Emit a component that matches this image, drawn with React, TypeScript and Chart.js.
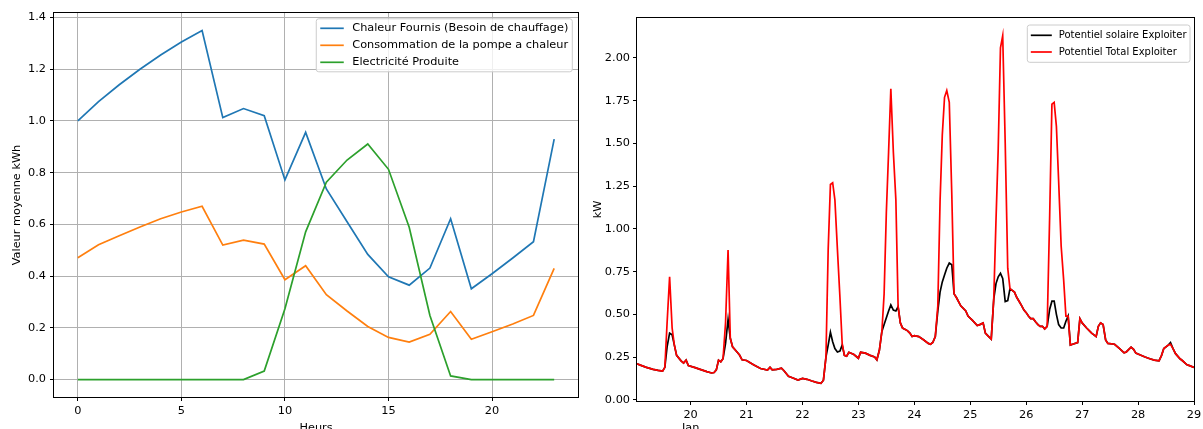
import React, { useEffect, useRef } from 'react';
import { Chart, registerables } from 'chart.js';

Chart.register(...registerables);

const FONT_FAMILY = 'DejaVu Sans';
const FONT_SIZE = 11.3;

// ---------- Left chart data ----------
const hours = [0, 1, 2, 3, 4, 5, 6, 7, 8, 9, 10, 11, 12, 13, 14, 15, 16, 17, 18, 19, 20, 21, 22, 23];
const chaleurFournis = [1.0, 1.075, 1.14, 1.2, 1.255, 1.305, 1.35, 1.013, 1.048, 1.02, 0.772, 0.956, 0.737, 0.61, 0.484, 0.397, 0.365, 0.431, 0.622, 0.351, 0.409, 0.47, 0.533, 0.93];
const consommationPAC = [0.471, 0.521, 0.556, 0.59, 0.622, 0.648, 0.67, 0.52, 0.539, 0.524, 0.386, 0.44, 0.328, 0.265, 0.205, 0.163, 0.145, 0.175, 0.263, 0.156, 0.185, 0.215, 0.248, 0.43];
const electriciteProduite = [0, 0, 0, 0, 0, 0, 0, 0, 0, 0.033, 0.274, 0.571, 0.763, 0.849, 0.911, 0.813, 0.589, 0.248, 0.014, 0, 0, 0, 0, 0];
const leftLabels = ['Chaleur Fournis (Besoin de chauffage)', 'Consommation de la pompe a chaleur', 'Electricité Produite'];
const leftColors = ['#1f77b4', '#ff7f0e', '#2ca02c'];
const leftXTicks = [0, 5, 10, 15, 20];
const leftYTicks = [0, 0.2, 0.4, 0.6, 0.8, 1.0, 1.2, 1.4];

// ---------- Right chart data (day of January) ----------
const days = [
  19.042, 19.125, 19.21, 19.33, 19.42, 19.5, 19.54, 19.58, 19.625, 19.67, 19.71, 19.75, 19.83, 19.875, 19.92, 19.96,
  20.08, 20.17, 20.29, 20.375, 20.42, 20.46, 20.5, 20.54, 20.58, 20.625, 20.67, 20.71, 20.75, 20.83, 20.875, 20.92,
  21.0, 21.125, 21.25, 21.375, 21.42, 21.46, 21.54, 21.625, 21.67, 21.75, 21.83, 21.92,
  22.0, 22.08, 22.17, 22.25, 22.33, 22.375, 22.42, 22.46, 22.5, 22.54, 22.58, 22.625, 22.67, 22.71, 22.75, 22.79, 22.83, 22.92,
  23.0, 23.04, 23.125, 23.21, 23.29, 23.33, 23.375, 23.42, 23.46, 23.5, 23.54, 23.58, 23.625, 23.67, 23.71, 23.75, 23.79, 23.875, 23.92, 23.96,
  24.0, 24.08, 24.17, 24.25, 24.29, 24.33, 24.375, 24.42, 24.46, 24.5, 24.54, 24.58, 24.625, 24.67, 24.71, 24.75, 24.83, 24.92, 24.96,
  25.04, 25.125, 25.17, 25.23, 25.27, 25.33, 25.375, 25.42, 25.46, 25.5, 25.54, 25.58, 25.625, 25.67, 25.71, 25.75, 25.79, 25.83, 25.875, 25.92, 25.96,
  26.0, 26.04, 26.08, 26.125, 26.17, 26.21, 26.25, 26.29, 26.33, 26.375, 26.42, 26.46, 26.5, 26.54, 26.58, 26.625, 26.67, 26.71, 26.75, 26.79, 26.83, 26.92, 26.96,
  27.0, 27.08, 27.17, 27.25, 27.29, 27.33, 27.375, 27.42, 27.46, 27.58, 27.67, 27.75, 27.79, 27.875, 27.92, 27.96,
  28.04, 28.125, 28.21, 28.29, 28.375, 28.42, 28.46, 28.54, 28.58, 28.625, 28.67, 28.75, 28.79, 28.875, 28.92, 29.0,
];
const potentielTotal = [
  0.21, 0.2, 0.19, 0.178, 0.172, 0.168, 0.19, 0.45, 0.72, 0.42, 0.32, 0.26, 0.228, 0.215, 0.232, 0.2,
  0.188, 0.178, 0.165, 0.157, 0.16, 0.175, 0.232, 0.222, 0.24, 0.45, 0.876, 0.36, 0.31, 0.28, 0.262, 0.234,
  0.23, 0.205, 0.183, 0.174, 0.19, 0.175, 0.178, 0.185, 0.17, 0.138, 0.128, 0.115,
  0.125, 0.12, 0.11, 0.102, 0.096, 0.115, 0.25, 0.88, 1.26, 1.27, 1.17, 0.88, 0.6, 0.33, 0.26, 0.255, 0.278, 0.265,
  0.243, 0.278, 0.273, 0.26, 0.25, 0.234, 0.29, 0.4, 0.62, 1.1, 1.45, 1.82, 1.45, 1.17, 0.545, 0.45, 0.42, 0.405, 0.39, 0.37,
  0.375, 0.37, 0.35, 0.33, 0.325, 0.335, 0.37, 0.55, 1.16, 1.55, 1.77, 1.81, 1.74, 1.2, 0.62, 0.6, 0.55, 0.52, 0.49,
  0.465, 0.435, 0.44, 0.45, 0.39, 0.37, 0.355, 0.59, 1.05, 1.47, 2.06, 2.13, 1.5, 0.77, 0.65, 0.64, 0.63, 0.6, 0.575, 0.55, 0.525,
  0.51, 0.49, 0.475, 0.475, 0.455, 0.44, 0.43, 0.43, 0.415, 0.43, 1.08, 1.73, 1.74, 1.6, 1.28, 0.9, 0.7, 0.49, 0.49, 0.32, 0.325, 0.335, 0.475,
  0.45, 0.42, 0.39, 0.37, 0.43, 0.45, 0.44, 0.35, 0.33, 0.325, 0.3, 0.275, 0.28, 0.308, 0.295, 0.273,
  0.262, 0.25, 0.24, 0.232, 0.228, 0.26, 0.3, 0.32, 0.325, 0.3, 0.27, 0.24, 0.23, 0.205, 0.2, 0.19,
];
const potentielSolaire = [
  0.21, 0.2, 0.19, 0.178, 0.172, 0.168, 0.19, 0.31, 0.39, 0.38, 0.32, 0.26, 0.228, 0.215, 0.232, 0.2,
  0.188, 0.178, 0.165, 0.157, 0.16, 0.175, 0.232, 0.222, 0.24, 0.33, 0.47, 0.36, 0.31, 0.28, 0.262, 0.234,
  0.23, 0.205, 0.183, 0.174, 0.19, 0.175, 0.178, 0.185, 0.17, 0.138, 0.128, 0.115,
  0.125, 0.12, 0.11, 0.102, 0.096, 0.115, 0.25, 0.32, 0.395, 0.34, 0.3, 0.28, 0.285, 0.32, 0.26, 0.255, 0.278, 0.265,
  0.243, 0.278, 0.273, 0.26, 0.25, 0.234, 0.29, 0.4, 0.44, 0.48, 0.52, 0.555, 0.525, 0.52, 0.545, 0.45, 0.42, 0.405, 0.39, 0.37,
  0.375, 0.37, 0.35, 0.33, 0.325, 0.335, 0.37, 0.52, 0.63, 0.69, 0.73, 0.77, 0.8, 0.79, 0.62, 0.6, 0.55, 0.52, 0.49,
  0.465, 0.435, 0.44, 0.45, 0.39, 0.37, 0.355, 0.59, 0.68, 0.72, 0.74, 0.71, 0.575, 0.58, 0.65, 0.64, 0.63, 0.6, 0.575, 0.55, 0.525,
  0.51, 0.49, 0.475, 0.475, 0.455, 0.44, 0.43, 0.43, 0.415, 0.43, 0.53, 0.577, 0.577, 0.5, 0.44, 0.42, 0.42, 0.46, 0.49, 0.32, 0.325, 0.335, 0.475,
  0.45, 0.42, 0.39, 0.37, 0.43, 0.45, 0.44, 0.35, 0.33, 0.325, 0.3, 0.275, 0.28, 0.308, 0.295, 0.273,
  0.262, 0.25, 0.24, 0.232, 0.228, 0.26, 0.3, 0.32, 0.335, 0.3, 0.27, 0.24, 0.23, 0.205, 0.2, 0.19,
];
const rightLabels = ['Potentiel solaire Exploiter', 'Potentiel Total Exploiter'];
const rightColors = ['#000000', '#ff0000'];
const rightXTicks = [20, 21, 22, 23, 24, 25, 26, 27, 28, 29];
const rightYTicks = [0, 0.25, 0.5, 0.75, 1.0, 1.25, 1.5, 1.75, 2.0];
const monthLabel = 'Jan';

const font = { family: FONT_FAMILY, size: FONT_SIZE };

function framePlugin() {
  return {
    id: 'frame',
    afterDatasetsDraw(chart: any) {
      const { ctx, chartArea: a } = chart;
      ctx.save();
      ctx.strokeStyle = '#000';
      ctx.lineWidth = 1;
      const l = Math.round(a.left) - 0.5;
      const t = Math.round(a.top) - 0.5;
      const r = Math.round(a.right) + 0.5;
      const b = Math.round(a.bottom) + 0.5;
      ctx.strokeRect(l, t, r - l, b - t);
      ctx.restore();
    },
  };
}

type LegendStyle = { fs: number; padX: number; padY: number; handle: number; htp: number; step: number; offRight: number; offTop: number };

function legendPlugin(labels: string[], colors: string[], st: LegendStyle) {
  return {
    id: 'mplLegend',
    afterDraw(chart: any) {
      const { ctx, chartArea: a } = chart;
      ctx.save();
      ctx.font = `${st.fs}px "${FONT_FAMILY}"`;
      const tw = Math.max(...labels.map((l) => ctx.measureText(l).width));
      const w = 2 * st.padX + st.handle + st.htp + tw;
      const h = 2 * st.padY + (labels.length - 1) * st.step;
      const x = a.right - st.offRight - w;
      const y = a.top + st.offTop;
      ctx.beginPath();
      if ((ctx as any).roundRect) (ctx as any).roundRect(x, y, w, h, 2.5);
      else ctx.rect(x, y, w, h);
      ctx.fillStyle = 'rgba(255,255,255,0.8)';
      ctx.fill();
      ctx.strokeStyle = '#cccccc';
      ctx.lineWidth = 1;
      ctx.stroke();
      labels.forEach((lab, i) => {
        const cy = y + st.padY + i * st.step;
        ctx.beginPath();
        ctx.strokeStyle = colors[i];
        ctx.lineWidth = 1.7;
        ctx.moveTo(x + st.padX, cy);
        ctx.lineTo(x + st.padX + st.handle, cy);
        ctx.stroke();
        ctx.fillStyle = '#000';
        ctx.textBaseline = 'middle';
        ctx.textAlign = 'left';
        ctx.fillText(lab, x + st.padX + st.handle + st.htp, cy);
      });
      ctx.restore();
    },
  };
}

function leftConfig(): any {
  const series = [chaleurFournis, consommationPAC, electriciteProduite];
  return {
    type: 'line',
    data: {
      datasets: series.map((s, k) => ({
        label: leftLabels[k],
        data: hours.map((h, i) => ({ x: h, y: s[i] })),
        borderColor: leftColors[k],
        backgroundColor: leftColors[k],
        borderWidth: 1.7,
        pointRadius: 0,
        tension: 0,
        fill: false,
        order: series.length - k,
      })),
    },
    options: {
      animation: false,
      responsive: false,
      devicePixelRatio: 1,
      layout: { padding: { top: 13, right: 12, bottom: 0, left: 0 }, autoPadding: false },
      plugins: { legend: { display: false }, tooltip: { enabled: false } },
      scales: {
        x: {
          type: 'linear',
          min: -1.15,
          max: 24.15,
          afterBuildTicks: (s: any) => { s.ticks = leftXTicks.map((v) => ({ value: v })); },
          afterFit: (s: any) => { s.height = 53; s.paddingLeft = 0; s.paddingRight = 0; },
          grid: { color: '#b0b0b0', lineWidth: 1, tickColor: '#000', tickLength: 4 },
          border: { display: false },
          ticks: { font, color: '#000', padding: 3, maxRotation: 0, autoSkip: false, callback: (v: any) => String(v) },
          title: { display: true, text: 'Heurs', font, color: '#000', padding: { top: 0, bottom: 15 } },
        },
        y: {
          type: 'linear',
          min: -0.0675,
          max: 1.4175,
          afterBuildTicks: (s: any) => { s.ticks = leftYTicks.map((v) => ({ value: v })); },
          afterFit: (s: any) => { s.width = 54; s.paddingTop = 0; s.paddingBottom = 0; },
          grid: { color: '#b0b0b0', lineWidth: 1, tickColor: '#000', tickLength: 4 },
          border: { display: false },
          ticks: { font, color: '#000', padding: 4, autoSkip: false, callback: (v: any) => Number(v).toFixed(1) },
          title: { display: true, text: 'Valeur moyenne kWh', font, color: '#000', padding: { top: 10.5, bottom: 0 } },
        },
      },
    },
    plugins: [
      framePlugin(),
      legendPlugin(leftLabels, leftColors, { fs: FONT_SIZE, padX: 4, padY: 9.5, handle: 23.5, htp: 8.5, step: 17, offRight: 5.7, offTop: 5.8 }),
    ],
  };
}

function rightConfig(): any {
  const series = [potentielSolaire, potentielTotal];
  return {
    type: 'line',
    data: {
      datasets: series.map((s, k) => ({
        label: rightLabels[k],
        data: days.map((d, i) => ({ x: d, y: s[i] })),
        borderColor: rightColors[k],
        backgroundColor: rightColors[k],
        borderWidth: 1.7,
        pointRadius: 0,
        tension: 0,
        fill: false,
        order: series.length - k,
      })),
    },
    options: {
      animation: false,
      responsive: false,
      devicePixelRatio: 1,
      layout: { padding: { top: 18, right: 9, bottom: 0, left: 0 }, autoPadding: false },
      plugins: { legend: { display: false }, tooltip: { enabled: false } },
      scales: {
        x: {
          type: 'linear',
          min: days[0],
          max: 29,
          afterBuildTicks: (s: any) => { s.ticks = rightXTicks.map((v) => ({ value: v })); },
          afterFit: (s: any) => { s.height = 49; s.paddingLeft = 0; s.paddingRight = 0; },
          grid: { drawOnChartArea: false, drawTicks: true, tickColor: '#000', tickLength: 4 },
          border: { display: false },
          ticks: {
            font, color: '#000', padding: 3, maxRotation: 0, autoSkip: false,
            callback: (v: any) => (Number(v) === 20 ? ['20', monthLabel] : String(v)),
          },
        },
        y: {
          type: 'linear',
          min: -0.007,
          max: 2.234,
          afterBuildTicks: (s: any) => { s.ticks = rightYTicks.map((v) => ({ value: v })); },
          afterFit: (s: any) => { s.width = 47; s.paddingTop = 0; s.paddingBottom = 0; },
          grid: { drawOnChartArea: false, drawTicks: true, tickColor: '#000', tickLength: 4 },
          border: { display: false },
          ticks: { font, color: '#000', padding: 3, autoSkip: false, callback: (v: any) => Number(v).toFixed(2) },
          title: { display: true, text: 'kW', font, color: '#000', padding: { top: 1.5, bottom: 0 } },
        },
      },
    },
    plugins: [
      framePlugin(),
      legendPlugin(rightLabels, rightColors, { fs: 10, padX: 3.5, padY: 10.3, handle: 21, htp: 7, step: 16.7, offRight: 4, offTop: 7 }),
    ],
  };
}

export default function App() {
  const leftRef = useRef<HTMLCanvasElement>(null);
  const rightRef = useRef<HTMLCanvasElement>(null);
  useEffect(() => {
    const c1 = new Chart(leftRef.current as HTMLCanvasElement, leftConfig());
    const c2 = new Chart(rightRef.current as HTMLCanvasElement, rightConfig());
    return () => {
      c1.destroy();
      c2.destroy();
    };
  }, []);
  return (
    <div style={{ position: 'fixed', left: 0, top: 0, width: 1203, height: 429, overflow: 'hidden', background: '#fff' }}>
      <canvas ref={leftRef} width={590} height={450} style={{ position: 'absolute', left: 0, top: 0 }} />
      <canvas ref={rightRef} width={613} height={450} style={{ position: 'absolute', left: 590, top: 0 }} />
    </div>
  );
}
